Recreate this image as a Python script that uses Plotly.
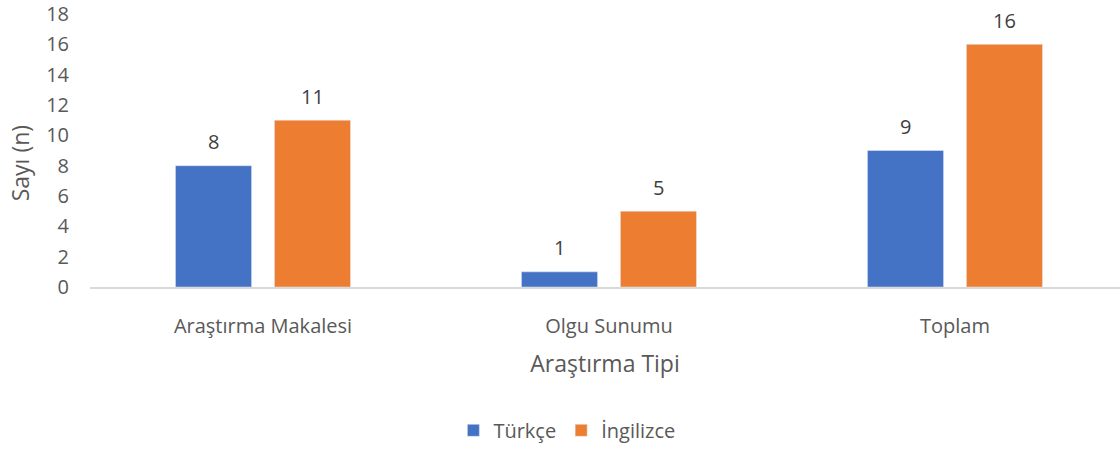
import plotly.graph_objects as go

categories = ["Araştırma Makalesi", "Olgu Sunumu", "Toplam"]
turkce = [8, 1, 9]
ingilizce = [11, 5, 16]
series_names = ["Türkçe", "İngilizce"]
colors = ["#4472C4", "#ED7D31"]
offsets = [-0.253, 0.033]
BAR_W = 0.22
x_title = "Araştırma Tipi"
y_title = "Sayı (n)"

FONT = "Open Sans"

fig = go.Figure()
for name, vals, col, off in zip(series_names, [turkce, ingilizce], colors, offsets):
    fig.add_trace(go.Bar(x=categories, y=vals, name=name, marker_color=col,
                         width=BAR_W, offset=off, cliponaxis=False))
    for i, v in enumerate(vals):
        fig.add_annotation(x=i + off + BAR_W / 2, y=v, text=str(v), showarrow=False,
                           xref="x", yref="y", yanchor="middle", yshift=24,
                           font=dict(size=20, color="#404040", family=FONT))

fig.add_annotation(text=y_title, xref="paper", yref="paper", x=-0.068, y=0.453,
                   xanchor="center", yanchor="middle", textangle=-90, showarrow=False,
                   font=dict(size=23, color="#595959", family=FONT))

fig.update_layout(
    width=1120, height=450,
    margin=dict(l=90, r=0, t=14, b=158),
    plot_bgcolor="white", paper_bgcolor="white",
    barmode="group",
    font=dict(family=FONT, color="#595959", size=20),
    xaxis=dict(range=[-0.5, 2.477], showline=True, linecolor="#D9D9D9", linewidth=1.5,
               showgrid=False, ticks="", ticklabelstandoff=20, automargin=False,
               tickfont=dict(size=20, color="#595959"),
               title=dict(text=x_title, font=dict(size=23, color="#595959"), standoff=18)),
    yaxis=dict(range=[0, 18], dtick=2, showgrid=False, zeroline=False, showline=False,
               ticks="", ticklabelstandoff=20, automargin=False, ticklabeloverflow="allow",
               tickfont=dict(size=20, color="#595959")),
    legend=dict(orientation="h", x=0.463, xanchor="center", y=-0.525, yanchor="middle",
                font=dict(size=20, color="#595959")),
)

fig.write_html("out.html", config={"displayModeBar": False},
               post_script="document.body.style.margin='0px';")
